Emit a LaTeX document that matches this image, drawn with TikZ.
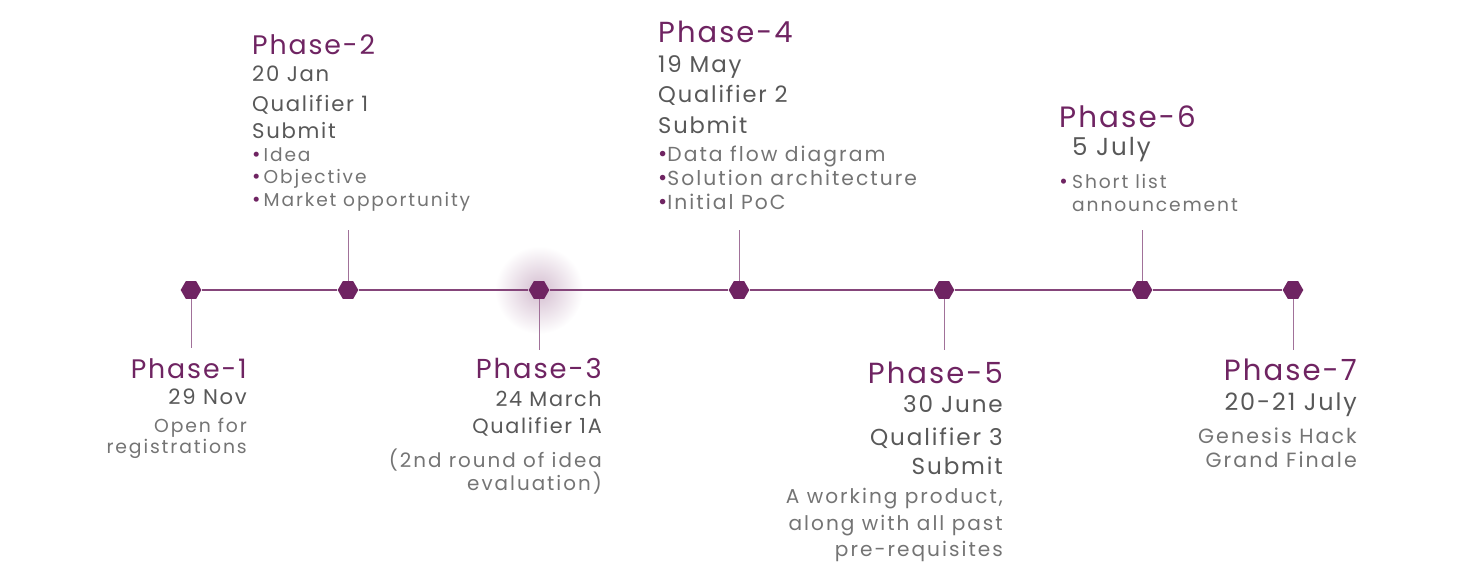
\documentclass[tikz,border=0pt]{standalone}
\usepackage{fontspec}
\setmainfont{Poppins}
\usetikzlibrary{shapes.geometric}
\definecolor{hpurple}{HTML}{6F2462}
\definecolor{dategray}{HTML}{585858}
\definecolor{bodygray}{HTML}{747474}
\newcommand\bul{\textcolor{hpurple}{\scalebox{1.1}{\textbullet}}}
\tikzset{
  hexdot/.style={regular polygon, regular polygon sides=6, fill=hpurple, minimum size=20.6pt, inner sep=0pt},
  phase/.style={text=hpurple, inner sep=0pt, font=\fontsize{#1}{#1}\selectfont\addfontfeature{LetterSpace=7}},
  date/.style={text=dategray, inner sep=0pt, font=\fontsize{#1}{#1}\selectfont\addfontfeature{LetterSpace=8}},
  info/.style={text=bodygray, inner sep=0pt, font=\fontsize{#1}{#1}\selectfont\addfontfeature{LetterSpace=10}},
  stem/.style={draw=hpurple!65, line width=1pt},
}
\begin{document}
\begin{tikzpicture}[x=1pt,y=-1pt]
    \useasboundingbox (0,0) rectangle (1464,571);
    % glow behind phase 3
    \shade[inner color=hpurple!30, outer color=white] (539,290) circle (44);
    % the milestones
    \node[hexdot] (p1) at (191,290) {};
    \node[hexdot] (p2) at (348,290) {};
    \node[hexdot] (p3) at (539,290) {};
    \node[hexdot] (p4) at (739,290) {};
    \node[hexdot] (p5) at (944,290) {};
    \node[hexdot] (p6) at (1142,290) {};
    \node[hexdot] (p7) at (1293,290) {};
    \draw[hpurple!85, line width=1.6pt] (p1) -- (p2) -- (p3) -- (p4) -- (p5) -- (p6) -- (p7);
    % stems
    \coordinate (s1) at (191,348);
    \coordinate (s2) at (348,230);
    \coordinate (s3) at (539,350);
    \coordinate (s4) at (739,230);
    \coordinate (s5) at (944,350);
    \coordinate (s6) at (1142,230);
    \coordinate (s7) at (1293,350);
    \draw[stem] (p1) -- (s1);
    \draw[stem] (p2) -- (s2);
    \draw[stem] (p3) -- (s3);
    \draw[stem] (p4) -- (s4);
    \draw[stem] (p5) -- (s5);
    \draw[stem] (p6) -- (s6);
    \draw[stem] (p7) -- (s7);
    % phase 1
    \node[phase=26.8, anchor=base east] (h1) at (247,378) {Phase-1};
    \node[date=21.2, anchor=base east] (d1) at (247,404) {29 Nov};
    \node[info=18.8, anchor=base east] (i1a) at (247,432) {Open for};
    \node[info=18.8, anchor=base east] (i1b) at (247,453) {registrations};
    % phase 2
    \node[phase=26.8, anchor=base west] (h2) at (252,54) {Phase-2};
    \node[date=21.2, anchor=base west] (d2) at (252,81) {20 Jan};
    \node[date=21.2, anchor=base west] (q2) at (252,111) {Qualifier 1};
    \node[date=21.2, anchor=base west] (u2) at (252,138) {Submit};
    \node[info=18.6, anchor=base west] (i2a) at (252,161) {\bul\,Idea};
    \node[info=18.6, anchor=base west] (i2b) at (252,183) {\bul\,Objective};
    \node[info=18.6, anchor=base west] (i2c) at (252,206) {\bul\,Market opportunity};
    % phase 3
    \node[phase=27.4, anchor=base east] (h3) at (602,378) {Phase-3};
    \node[date=20.8, anchor=base east] (d3) at (602,406) {24 March};
    \node[date=20.8, anchor=base east] (q3) at (602,433) {Qualifier 1A};
    \node[info=19.9, anchor=base east] (i3a) at (602,467) {(2nd round of idea};
    \node[info=19.9, anchor=base east] (i3b) at (602,490) {evaluation)};
    % phase 4
    \node[phase=29, anchor=base west] (h4) at (658,42) {Phase-4};
    \node[date=22.9, anchor=base west] (d4) at (658,72) {19 May};
    \node[date=22.6, anchor=base west] (q4) at (658,102) {Qualifier 2};
    \node[date=22.6, anchor=base west] (u4) at (658,133) {Submit};
    \node[info=20.3, anchor=base west] (i4a) at (658,161) {\bul Data flow diagram};
    \node[info=20.3, anchor=base west] (i4b) at (658,185) {\bul Solution architecture};
    \node[info=20.3, anchor=base west] (i4c) at (658,209) {\bul Initial PoC};
    % phase 5
    \node[phase=29.1, anchor=base east] (h5) at (1003,383) {Phase-5};
    \node[date=23.1, anchor=base east] (d5) at (1003,412) {30 June};
    \node[date=23.1, anchor=base east] (q5) at (1003,445) {Qualifier 3};
    \node[date=23.1, anchor=base east] (u5) at (1003,474) {Submit};
    \node[info=20.1, anchor=base east] (i5a) at (1003,503) {A working product,};
    \node[info=20.1, anchor=base east] (i5b) at (1003,530) {along with all past};
    \node[info=20.1, anchor=base east] (i5c) at (1003,556) {pre-requisites};
    % phase 6
    \node[phase=29.4, anchor=base west] (h6) at (1059,127) {Phase-6};
    \node[date=24.6, anchor=base west] (d6) at (1072,155) {5 July};
    \node[info=18.7, anchor=base east] (b6) at (1068,188) {\bul};
    \node[info=18.7, anchor=base west] (i6a) at (1072,188) {Short list};
    \node[info=18.7, anchor=base west] (i6b) at (1072,211) {announcement};
    % phase 7
    \node[phase=29.2, anchor=base east] (h7) at (1357,380) {Phase-7};
    \node[date=23.9, anchor=base east] (d7) at (1357,410) {20-21 July};
    \node[info=20.6, anchor=base east] (i7a) at (1357,443) {Genesis Hack};
    \node[info=20.6, anchor=base east] (i7b) at (1357,467) {Grand Finale};
\end{tikzpicture}
\end{document}
